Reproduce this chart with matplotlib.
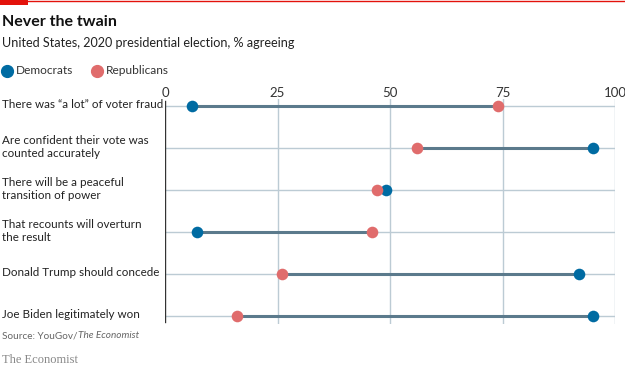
import matplotlib.pyplot as plt
from matplotlib.patches import Rectangle

# data
questions = ['There was \u201ca lot\u201d of voter fraud',
             'Are confident their vote was\ncounted accurately',
             'There will be a peaceful\ntransition of power',
             'That recounts will overturn\nthe result',
             'Donald Trump should concede',
             'Joe Biden legitimately won']
democrats = [6, 95, 49, 7, 92, 95]
republicans = [74, 56, 47, 46, 26, 16]
ticks = [0, 25, 50, 75, 100]

dem_col = '#006BA2'
rep_col = '#E06C6C'
line_col = '#5B7A8C'
grid_col = '#BCCBD4'

plt.rcParams['font.family'] = ['Lato', 'DejaVu Sans']

W, H = 625, 368
fig = plt.figure(figsize=(W / 100, H / 100), dpi=100)

# top red bar
fig.add_artist(Rectangle((0, 1 - 5 / H), 28 / W, 5 / H, transform=fig.transFigure,
                         color='#E3120B', lw=0))
fig.add_artist(plt.Line2D([0, 1], [1 - 1 / H, 1 - 1 / H], transform=fig.transFigure,
                          color='#E3120B', lw=1))

# axes from y=99px to y=324px, rows every 42px starting at 106px
ax = fig.add_axes([165 / W, 1 - 324 / H, 450 / W, 225 / H])
ax.set_xlim(0, 100)
ax.set_ylim(5 + 8 / 42, -7 / 42)

for i in range(len(questions)):
    ax.axhline(i, color=grid_col, lw=1, zorder=0)
for t in ticks[1:]:
    ax.axvline(t, color=grid_col, lw=1, zorder=0)
ax.axvline(0, ymin=0.01, ymax=0.99, color='#333333', lw=1, zorder=1)

for i in range(len(questions)):
    ax.plot([democrats[i], republicans[i]], [i, i], color=line_col, lw=2.2, zorder=2,
            solid_capstyle='butt')
ax.scatter(democrats, range(len(questions)), s=70, color=dem_col, zorder=3, lw=0)
ax.scatter(republicans, range(len(questions)), s=70, color=rep_col, zorder=3, lw=0)

for s in ax.spines.values():
    s.set_visible(False)
ax.xaxis.tick_top()
ax.set_xticks(ticks)
ax.tick_params(axis='x', length=0, pad=0, labelsize=9.5, colors='#333333')
ax.set_yticks([])

for i, q in enumerate(questions):
    fig.text(2 / W, 1 - (105 + 42 * i) / H, q, ha='left', va='center',
             fontsize=8.4, color='#222222', linespacing=1.3)

fig.text(2 / W, 1 - 22 / H, 'Never the twain', fontsize=11.5, fontweight='bold',
         color='#111111', va='center')
fig.text(2 / W, 1 - 43 / H, 'United States, 2020 presidential election, % agreeing',
         fontsize=9.1, color='#222222', va='center')
fig.add_artist(plt.Line2D([7 / W], [1 - 71 / H], marker='o', ms=8.5, color=dem_col,
                          lw=0, transform=fig.transFigure))
fig.text(16 / W, 1 - 71 / H, 'Democrats', fontsize=8.6, color='#333333', va='center')
fig.add_artist(plt.Line2D([97 / W], [1 - 71 / H], marker='o', ms=8.5, color=rep_col,
                          lw=0, transform=fig.transFigure))
fig.text(106 / W, 1 - 71 / H, 'Republicans', fontsize=8.6, color='#333333', va='center')

src = fig.text(2 / W, 1 - 336 / H, 'Source: YouGov/', fontsize=7.2, color='#666666',
               va='center')
fig.canvas.draw()
bb = src.get_window_extent()
fig.text(bb.x1 / W, 1 - 336 / H, 'The Economist', fontsize=7.2, color='#666666',
         va='center', style='italic')
fig.text(2 / W, 1 - 360 / H, 'The Economist', fontsize=9, color='#888888',
         va='center', family=['Liberation Serif', 'DejaVu Serif'])

fig.savefig('out.png', dpi=100)
